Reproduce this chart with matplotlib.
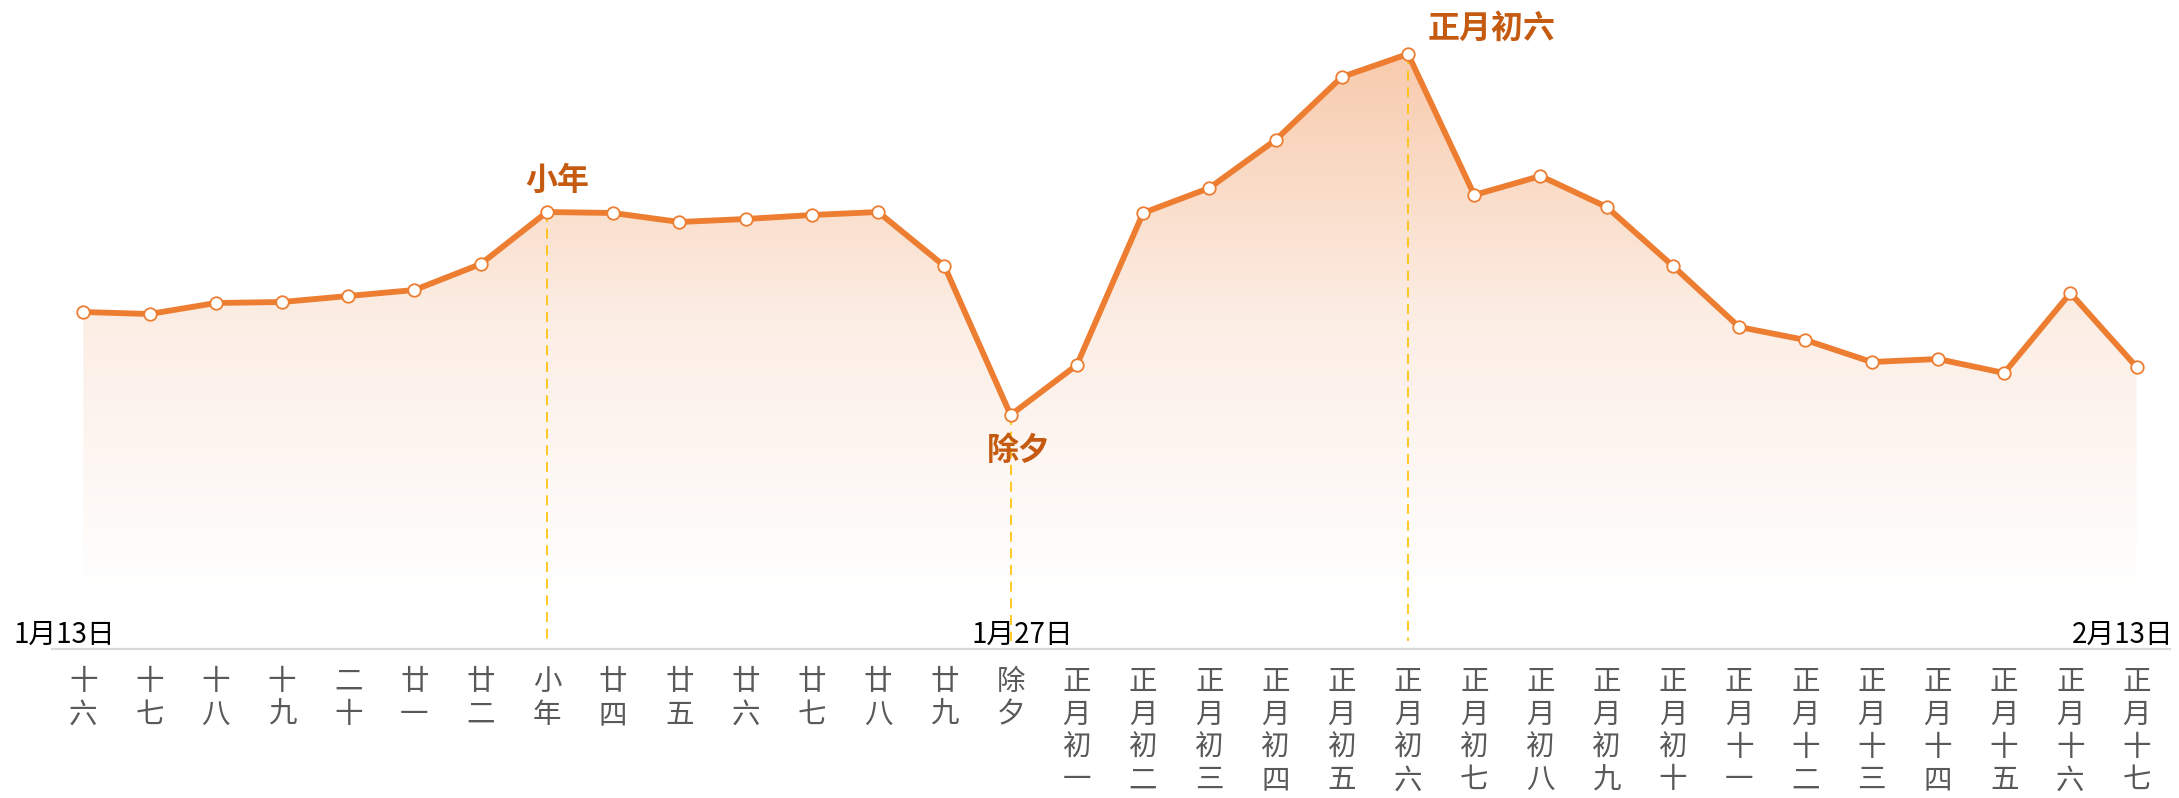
import numpy as np
import matplotlib
matplotlib.use('Agg')
import matplotlib.pyplot as plt
from matplotlib.colors import LinearSegmentedColormap

plt.rcParams['font.family'] = ['Noto Sans CJK SC', 'DejaVu Sans']

# lunar calendar days, 1/13 - 2/13
lunarDays = ['十六', '十七', '十八', '十九', '二十', '廿一', '廿二', '小年',
             '廿四', '廿五', '廿六', '廿七', '廿八', '廿九', '除夕',
             '正月初一', '正月初二', '正月初三', '正月初四', '正月初五', '正月初六',
             '正月初七', '正月初八', '正月初九', '正月初十', '正月十一', '正月十二',
             '正月十三', '正月十四', '正月十五', '正月十六', '正月十七']

values = [281, 279, 290, 291, 297, 303, 329, 381, 380, 371, 374, 378, 381,
          327, 178, 228, 380, 405, 453, 516, 539, 398, 417, 386, 327, 266,
          253, 231, 234, 220, 300, 226]

dateLabels = ['1月13日', '1月27日', '2月13日']
dateIdx = [0, 14, 31]

highlights = ['小年', '除夕', '正月初六']
highlightIdx = [7, 14, 20]

LINE_COLOR = '#ED7D31'
TEXT_COLOR = '#C55A11'
AXIS_V = -56


def main():
	fig = plt.figure(figsize=(21.79, 7.98), dpi=100)
	ax = fig.add_axes([0, 0, 1, 1])
	x = np.arange(len(values))
	y = np.array(values)

	# gradient area under the line
	poly = ax.fill_between(x, 0, y, color='none', lw=0)
	cmap = LinearSegmentedColormap.from_list('g', ['#FFFFFF', '#FCEEE5', '#F8CBAD'])
	grad = np.linspace(0, 1, 256).reshape(-1, 1)
	img = ax.imshow(grad, cmap=cmap, origin='lower', aspect='auto',
	                extent=[x[0], x[-1], 0, y.max()], zorder=1)
	img.set_clip_path(poly.get_paths()[0], transform=ax.transData)
	ax.set_xlim(-1.258, 31.64)
	ax.set_ylim(-205, 593)

	# dashed guide lines
	for i in highlightIdx:
		ax.plot([i, i], [values[i], AXIS_V + 8], color='#FFC000', lw=1.2,
		        dashes=(6, 4), zorder=2)

	ax.plot(x, y, color=LINE_COLOR, lw=4.2, zorder=3, marker='o', markersize=9,
	        markerfacecolor='white', markeredgecolor=LINE_COLOR, markeredgewidth=1.3)

	# highlight labels
	offsets = [(10, 31), (8, -36), (84, 25)]
	for name, i, off in zip(highlights, highlightIdx, offsets):
		ax.annotate(name, xy=(i, values[i]), xytext=off, textcoords='offset pixels',
		            ha='center', va='center', fontsize=23, fontweight='bold',
		            color=TEXT_COLOR, zorder=4)

	# dates above axis line
	dateOff = [(-70, 6), (12, 6), (37, 6)]
	dateHa = ['left', 'center', 'right']
	for label, i, off, ha in zip(dateLabels, dateIdx, dateOff, dateHa):
		ax.annotate(label, xy=(i, AXIS_V), xytext=off, textcoords='offset pixels',
		            ha=ha, va='baseline', fontsize=20, color='black', zorder=4)

	# axis styling
	for s in ['top', 'right', 'left']:
		ax.spines[s].set_visible(False)
	ax.spines['bottom'].set_position(('data', AXIS_V))
	ax.spines['bottom'].set_bounds(-0.48, 31.5)
	ax.spines['bottom'].set_color('#D9D9D9')
	ax.spines['bottom'].set_linewidth(1.6)
	ax.set_yticks([])
	ax.set_xticks(x)
	ax.set_xticklabels(['\n'.join(d) for d in lunarDays], fontsize=20.5,
	                   color='#595959', linespacing=1.12)
	ax.tick_params(axis='x', length=0, pad=13)
	ax.set_facecolor('white')

	fig.savefig('out.png', dpi=100, facecolor='white')


if __name__ == "__main__":
	main()
